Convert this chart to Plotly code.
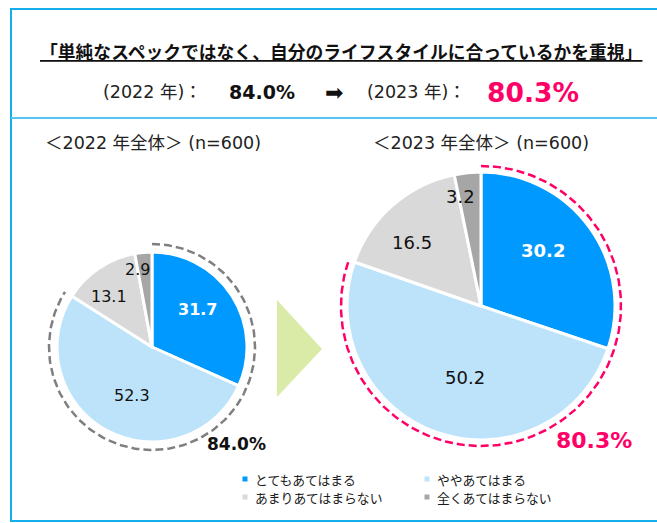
"""
Two-year pie comparison: lifestyle fit vs. plain specs.
"""

import numpy as np
import plotly.graph_objects as go

W, H = 657, 523

# data
CATEGORIES = ['とてもあてはまる', 'ややあてはまる', 'あまりあてはまらない', '全くあてはまらない']
VALUES_2022 = [31.7, 52.3, 13.1, 2.9]
VALUES_2023 = [30.2, 50.2, 16.5, 3.2]
YEARS = ['2022', '2023']
N_RESP = [600, 600]
TOTALS = ['84.0%', '80.3%']
TITLE = '「単純なスペックではなく、自分のライフスタイルに合っているかを重視」'

# styles
SLICE_COLORS = ['#0099FF', '#BDE3FB', '#D9D9D9', '#A6A6A6']
FRAME_BLUE = '#14AEEC'
SEP_BLUE = '#55C5F0'
PINK = '#FF0066'
GREY_ARC = '#7F7F7F'
TRI_GREEN = '#D9EBA6'
JP = 'Noto Sans CJK JP'
MIX = 'DejaVu Sans, Noto Sans CJK JP'

LABEL_R = [0.62, 0.55, 0.7, 0.82]
LABEL_ROT = -6

PIES = [
    dict(values=VALUES_2022, cx=152, cy=347, r=95, arc_r=103, arc_color=GREY_ARC,
         label_size=16, total_xy=(236, 444), total_size=17, total_color='#111111'),
    dict(values=VALUES_2023, cx=481, cy=306, r=134, arc_r=140, arc_color=PINK,
         label_size=18, total_xy=(594, 440), total_size=22, total_color=PINK),
]

fig = go.Figure()
annotations = []
shapes = []

for i, p in enumerate(PIES):
    cx, cy, r = p['cx'], p['cy'], p['r']
    fig.add_trace(go.Pie(
        values=p['values'], labels=CATEGORIES, sort=False, direction='clockwise',
        rotation=0, textinfo='none', hoverinfo='label+value', showlegend=False,
        marker=dict(colors=SLICE_COLORS, line=dict(color='white', width=3)),
        domain=dict(x=[(cx - r) / W, (cx + r) / W], y=[1 - (cy + r) / H, 1 - (cy - r) / H]),
    ))

    # dashed arc over the "agree" share (first two categories)
    share = sum(p['values'][:2]) / sum(p['values'])
    theta = np.linspace(0, share * 2 * np.pi, 200)
    fig.add_trace(go.Scatter(
        x=cx + p['arc_r'] * np.sin(theta), y=cy - p['arc_r'] * np.cos(theta),
        mode='lines', hoverinfo='skip', showlegend=False,
        line=dict(color=p['arc_color'], width=2.5, dash='8px,4px'),
    ))

    # slice value labels
    total = sum(p['values'])
    start = 0
    for j, v in enumerate(p['values']):
        mid = (start + v / 2) / total * 360
        start += v
        last = j == len(p['values']) - 1
        ang = np.deg2rad(mid if last else mid + LABEL_ROT)
        rr = r * LABEL_R[j]
        annotations.append(dict(
            x=cx + rr * np.sin(ang) + (7 if last else 0), y=cy - rr * np.cos(ang),
            xref='x', yref='y', showarrow=False, text=f'{v:.1f}',
            xanchor='right' if last else 'center',
            font=dict(family='DejaVu Sans', size=p['label_size'],
                      color='white' if j == 0 else '#111111',
                      weight='bold' if j == 0 else 'normal'),
        ))

    # total label
    annotations.append(dict(
        x=p['total_xy'][0], y=p['total_xy'][1], xref='x', yref='y', showarrow=False,
        text=f'<b>{TOTALS[i]}</b>',
        font=dict(family='DejaVu Sans', size=p['total_size'], color=p['total_color']),
    ))

    # sub title
    annotations.append(dict(
        x=cx + (1 if i == 0 else 0), y=143, xref='x', yref='y', showarrow=False,
        text=f'＜{YEARS[i]} 年全体＞ (n={N_RESP[i]})',
        font=dict(family=MIX, size=17.5, color='#222222'),
    ))

# header
annotations.append(dict(
    x=341, y=51, xref='x', yref='y', showarrow=False, text=f'<b>{TITLE}</b>',
    font=dict(family=JP, size=17.8, color='#111111', lineposition='under'),
))
header_items = [
    (152, f'({YEARS[0]} 年)：', 17.5, '#222222', False),
    (262, TOTALS[0], 19, '#111111', True),
    (334, '➡', 22, '#111111', False),
    (416, f'({YEARS[1]} 年)：', 17.5, '#222222', False),
    (533, TOTALS[1], 26.5, PINK, True),
]
for x, txt, size, color, bold in header_items:
    annotations.append(dict(
        x=x, y=92, xref='x', yref='y', showarrow=False,
        text=f'<b>{txt}</b>' if bold else txt,
        font=dict(family=MIX, size=size, color=color),
    ))

# legend (two columns)
legend_pos = [(245, 479), (427, 479), (245, 497), (427, 497)]
for (x, y), cat, col in zip(legend_pos, CATEGORIES, SLICE_COLORS):
    shapes.append(dict(type='rect', xref='x', yref='y', x0=x - 2.5, x1=x + 2.5,
                       y0=y - 2.5, y1=y + 2.5, fillcolor=col, line_width=0))
    annotations.append(dict(
        x=x + 8, y=y, xref='x', yref='y', xanchor='left', showarrow=False,
        text=cat, font=dict(family=JP, size=12.8, color='#1a1a1a'),
    ))

# frame and arrow triangle
shapes += [
    dict(type='rect', xref='x', yref='y', x0=11, x1=W + 10, y0=9, y1=521,
         line=dict(color=FRAME_BLUE, width=2)),
    dict(type='line', xref='x', yref='y', x0=11, x1=W, y0=118, y1=118,
         line=dict(color=SEP_BLUE, width=2)),
    dict(type='path', xref='x', yref='y', path='M 277 300 L 322 349 L 277 397 Z',
         fillcolor=TRI_GREEN, line_width=0),
]

fig.update_layout(
    width=W, height=H, margin=dict(l=0, r=0, t=0, b=0),
    paper_bgcolor='white', plot_bgcolor='white',
    xaxis=dict(range=[0, W], visible=False, fixedrange=True),
    yaxis=dict(range=[H, 0], visible=False, fixedrange=True),
    annotations=annotations, shapes=shapes, showlegend=False,
)

# drop the default 8px body margin so the figure sits at the page origin
fig.write_html('out.html', config={'displayModeBar': False},
               post_script="document.body.style.margin='0';document.body.style.overflow='hidden';")
